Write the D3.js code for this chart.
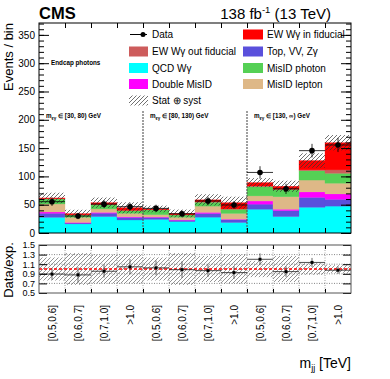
<!DOCTYPE html>
<html><head><meta charset="utf-8">
<script src="https://cdn.jsdelivr.net/npm/d3@7"></script>
<style>
body{margin:0;background:#fff;}
svg{font-family:"Liberation Sans",Arial,Helvetica,sans-serif;}
</style></head>
<body><svg id="c" width="390" height="379"></svg>
<script>
const binLabels = ["[0.5,0.6]","[0.6,0.7]","[0.7,1.0]",">1.0","[0.5,0.6]","[0.6,0.7]","[0.7,1.0]",">1.0","[0.5,0.6]","[0.6,0.7]","[0.7,1.0]",">1.0"];
const regionLabels = ["[30, 80) GeV","[80, 130) GeV","[130, \u221E) GeV"];
const qcdWg    = [27.7,16,29,23,24,20,28,18.5,42,29,45.5,47.5];
const topVVZg  = [7.1,1.5,6,4.5,3.5,2.5,6.5,5,9,10.5,17.5,12];
const doubleMis= [2.3,1.2,1.5,1.2,0.8,0.8,2,1,5.5,2.5,9.5,9.5];
const misLep   = [14.2,9,6,6,4,4.5,11,10,9,22,21,19];
const misPho   = [8.8,4,7.5,4.8,8.5,4,7,7.5,16.5,13,16.5,17.5];
const ewOut    = [0.5,0.3,0.5,0.5,0.4,0.3,0.5,0.5,1,0.5,1.5,6];
const ewIn     = [1.3,2.2,3,4.5,1.3,2.4,3.5,11,6,5,16.5,48];
const dataVals = [55.3,30,51,46.5,43.5,34,56.5,49.5,107,78,145.5,155.5];
const dataErr  = [7.5,5.5,7,7,6.5,6,7.5,7,11,9,12,12.5];
const uncMain  = [0.15,0.2,0.17,0.22,0.14,0.2,0.17,0.2,0.09,0.12,0.1,0.085];
const uncRatio = [0.24,0.33,0.3,0.3,0.24,0.33,0.27,0.3,0.17,0.27,0.12,0.08];
const yTicks = [0,50,100,150,200,250,300,350];
const rTicks = [0.5,0.7,0.9,1.1,1.3,1.5];

const series = [
  {name:"QCD W\u03B3", vals:qcdWg, color:"#00ffff"},
  {name:"Top, VV, Z\u03B3", vals:topVVZg, color:"#5a50dc"},
  {name:"Double MisID", vals:doubleMis, color:"#ff00ff"},
  {name:"MisID lepton", vals:misLep, color:"#deb887"},
  {name:"MisID photon", vals:misPho, color:"#55d055"},
  {name:"EW W\u03B3 out fiducial", vals:ewOut, color:"#cd5c5c"},
  {name:"EW W\u03B3 in fiducial", vals:ewIn, color:"#ff0000"}
];
const nb = binLabels.length;
const table = d3.range(nb).map(i=>{const o={i}; series.forEach(s=>o[s.name]=s.vals[i]); return o;});
const stacked = d3.stack().keys(series.map(s=>s.name))(table);
const totals = d3.range(nb).map(i=>d3.sum(series,s=>s.vals[i]));

const svg = d3.select("#c");
const L=39,R=351,T=23,B=233,RT=245,RB=293;
const x = d3.scaleBand().domain(d3.range(nb)).range([L,R]).padding(0);
const xe = d3.scaleLinear().domain([0,nb]).range([L,R]);
const y = d3.scaleLinear().domain([0,371]).range([B,T]);
const yr = d3.scaleLinear().domain([0.5,1.5]).range([RB,RT]);

const defs = svg.append("defs");
function hatch(id,col){
  defs.append("pattern").attr("id",id).attr("patternUnits","userSpaceOnUse").attr("width",4).attr("height",4)
   .append("path").attr("d","M-1,1 l2,-2 M0,4 l4,-4 M3,5 l2,-2").attr("stroke",col).attr("stroke-width",0.7);
}
hatch("hm","#333"); hatch("hr","#666");
defs.append("clipPath").attr("id","cm").append("rect").attr("x",L).attr("y",T).attr("width",R-L).attr("height",B-T);

// stack
const gs = svg.append("g").attr("clip-path","url(#cm)");
stacked.forEach((layer,k)=>{
  gs.selectAll(null).data(layer).enter().append("rect")
   .attr("x",(d,i)=>x(i)).attr("width",x.bandwidth())
   .attr("y",d=>y(d[1])).attr("height",d=>Math.max(0,y(d[0])-y(d[1])))
   .attr("fill",series[k].color).attr("stroke",series[k].color).attr("stroke-width",0.3);
});
gs.selectAll(null).data(d3.range(nb)).enter().append("rect")
  .attr("x",i=>x(i)).attr("width",x.bandwidth())
  .attr("y",i=>y(totals[i]*(1+uncMain[i]))).attr("height",i=>y(totals[i]*(1-uncMain[i]))-y(totals[i]*(1+uncMain[i])))
  .attr("fill","url(#hm)");

[4,8].forEach(e=>{
  svg.append("line").attr("x1",xe(e)).attr("x2",xe(e)).attr("y1",y(215)).attr("y2",B)
   .attr("stroke","#555").attr("stroke-width",1.5).attr("stroke-dasharray","1.5,1.5");
});
regionLabels.forEach((t,j)=>{
  const tx = svg.append("text").attr("x",xe(j*4)+7).attr("y",y(203)).attr("font-size",6.3).attr("font-weight","bold");
  tx.append("tspan").text("m");
  tx.append("tspan").attr("font-size",4.5).attr("dy",1.8).text("\u2113\u03B3");
  tx.append("tspan").attr("dy",-1.8).text(" \u2208 "+t);
});
svg.append("text").attr("x",51).attr("y",y(300)+2.2).attr("font-size",6.3).attr("font-weight","bold").attr("fill","#000").text("Endcap photons");

const gd = svg.append("g");
d3.range(nb).forEach(i=>{
  const cx = x(i)+x.bandwidth()/2;
  gd.append("line").attr("x1",x(i)).attr("x2",x(i)+x.bandwidth()).attr("y1",y(dataVals[i])).attr("y2",y(dataVals[i])).attr("stroke","#000").attr("stroke-width",0.8);
  gd.append("line").attr("x1",cx).attr("x2",cx).attr("y1",y(dataVals[i]-dataErr[i])).attr("y2",y(dataVals[i]+dataErr[i])).attr("stroke","#000").attr("stroke-width",0.8);
  gd.append("circle").attr("cx",cx).attr("cy",y(dataVals[i])).attr("r",2.8).attr("fill","#000");
});

function styleAxis(g){ g.select(".domain").remove(); g.selectAll("line").attr("stroke","#000"); g.selectAll("text").attr("font-size",10).attr("fill","#000").attr("font-family","Liberation Sans, Arial, sans-serif"); }
svg.append("g").attr("transform",`translate(${L},0)`).call(d3.axisLeft(y).tickValues(yTicks).tickSize(-10).tickPadding(4)).call(styleAxis);
svg.append("g").attr("transform",`translate(${L},0)`).call(d3.axisLeft(y).tickValues(d3.range(0,371,10)).tickSize(-5).tickFormat("")).call(styleAxis);
svg.append("g").attr("transform",`translate(${R},0)`).call(d3.axisRight(y).tickValues(yTicks).tickSize(-10).tickFormat("")).call(styleAxis);
svg.append("g").attr("transform",`translate(${R},0)`).call(d3.axisRight(y).tickValues(d3.range(0,371,10)).tickSize(-5).tickFormat("")).call(styleAxis);
svg.append("g").attr("transform",`translate(0,${B})`).call(d3.axisBottom(xe).tickValues(d3.range(1,nb)).tickSize(-5).tickFormat("")).call(styleAxis);
svg.append("g").attr("transform",`translate(0,${T})`).call(d3.axisTop(xe).tickValues(d3.range(1,nb)).tickSize(-5).tickFormat("")).call(styleAxis);
svg.append("rect").attr("x",L).attr("y",T).attr("width",R-L).attr("height",B-T).attr("fill","none").attr("stroke","#000").attr("stroke-width",1);

const gr = svg.append("g");
[0.7,0.9,1.1,1.3].forEach(v=>{
  gr.append("line").attr("x1",L).attr("x2",R).attr("y1",yr(v)).attr("y2",yr(v)).attr("stroke","#666").attr("stroke-width",0.8).attr("stroke-dasharray","1,1.5");
});
d3.range(1,nb).forEach(e=>{
  gr.append("line").attr("x1",xe(e)).attr("x2",xe(e)).attr("y1",RT).attr("y2",RB).attr("stroke","#888").attr("stroke-width",0.8).attr("stroke-dasharray","1,1.5");
});
gr.selectAll(null).data(d3.range(nb)).enter().append("rect")
  .attr("x",i=>x(i)).attr("width",x.bandwidth())
  .attr("y",i=>yr(1+uncRatio[i])).attr("height",i=>yr(1-uncRatio[i])-yr(1+uncRatio[i]))
  .attr("fill","url(#hr)");
gr.append("line").attr("x1",L).attr("x2",R).attr("y1",yr(1)).attr("y2",yr(1)).attr("stroke","#ff0000").attr("stroke-width",1.5).attr("stroke-dasharray","3,2");
d3.range(nb).forEach(i=>{
  const r = dataVals[i]/totals[i], re = dataErr[i]/totals[i];
  const cx = x(i)+x.bandwidth()/2;
  gr.append("line").attr("x1",x(i)).attr("x2",x(i)+x.bandwidth()).attr("y1",yr(r)).attr("y2",yr(r)).attr("stroke","#222").attr("stroke-width",0.8);
  gr.append("line").attr("x1",cx).attr("x2",cx).attr("y1",yr(r-re)).attr("y2",yr(r+re)).attr("stroke","#444").attr("stroke-width",0.8);
  gr.append("rect").attr("x",cx-1.5).attr("y",yr(r)-1.5).attr("width",3).attr("height",3).attr("fill","#000");
});
svg.append("g").attr("transform",`translate(${L},0)`).call(d3.axisLeft(yr).tickValues(rTicks).tickSize(-8).tickPadding(4).tickFormat(d3.format(".1f"))).call(styleAxis).selectAll("text").attr("font-size",9);
svg.append("g").attr("transform",`translate(${R},0)`).call(d3.axisRight(yr).tickValues(rTicks).tickSize(-8).tickFormat("")).call(styleAxis);
svg.append("g").attr("transform",`translate(0,${RB})`).call(d3.axisBottom(xe).tickValues(d3.range(1,nb)).tickSize(-4).tickFormat("")).call(styleAxis);
svg.append("g").attr("transform",`translate(0,${RT})`).call(d3.axisTop(xe).tickValues(d3.range(1,nb)).tickSize(-4).tickFormat("")).call(styleAxis);
svg.append("rect").attr("x",L).attr("y",RT).attr("width",R-L).attr("height",RB-RT).attr("fill","none").attr("stroke","#555").attr("stroke-width",1);

const gx = svg.append("g").attr("transform",`translate(0,${RB})`).call(d3.axisBottom(x).tickSize(0).tickFormat(i=>binLabels[i]));
gx.select(".domain").remove();
gx.selectAll("text").attr("transform","rotate(-90)").attr("x",-12).attr("y",0).attr("dy","0.35em")
  .attr("text-anchor","end").attr("font-size",10).attr("fill","#000").attr("font-family","Liberation Sans, Arial, sans-serif");

svg.append("text").attr("x",39).attr("y",19).attr("font-size",16.5).attr("font-weight","bold").text("CMS");
const lum = svg.append("text").attr("x",331).attr("y",19).attr("text-anchor","end").attr("font-size",15);
lum.append("tspan").text("138 fb");
lum.append("tspan").attr("font-size",9.5).attr("dy",-6).text("-1");
lum.append("tspan").attr("dy",6).text(" (13 TeV)");
svg.append("text").attr("transform","translate(13,23) rotate(-90)").attr("text-anchor","end").attr("font-size",13).text("Events / bin");
svg.append("text").attr("transform","translate(13,270) rotate(-90)").attr("text-anchor","middle").attr("font-size",13).text("Data/exp.");
const mj = svg.append("text").attr("x",351).attr("y",368).attr("text-anchor","end").attr("font-size",14);
mj.append("tspan").text("m");
mj.append("tspan").attr("font-size",9).attr("dy",3).text("jj");
mj.append("tspan").attr("dy",-3).text(" [TeV]");

const leg = svg.append("g").attr("font-size",10);
const rows = [34.5,51.5,68,84,100.5];
const byName = n=>series.find(s=>s.name===n);
const leftItems = ["EW W\u03B3 out fiducial","QCD W\u03B3","Double MisID"];
const rightItems = ["EW W\u03B3 in fiducial","Top, VV, Z\u03B3","MisID photon","MisID lepton"];
leg.append("line").attr("x1",130).attr("x2",147).attr("y1",rows[0]).attr("y2",rows[0]).attr("stroke","#000");
leg.append("circle").attr("cx",143).attr("cy",rows[0]).attr("r",2.5).attr("fill","#000");
leg.append("text").attr("x",152).attr("y",rows[0]).attr("dy","0.35em").text("Data");
leftItems.forEach((n,j)=>{
  leg.append("rect").attr("x",129).attr("y",rows[j+1]-5).attr("width",19).attr("height",10).attr("fill",byName(n).color);
  leg.append("text").attr("x",152).attr("y",rows[j+1]).attr("dy","0.35em").text(n);
});
leg.append("rect").attr("x",129).attr("y",rows[4]-5).attr("width",19).attr("height",10).attr("fill","url(#hm)");
leg.append("text").attr("x",152).attr("y",rows[4]).attr("dy","0.35em").text("Stat \u2295 syst");
rightItems.forEach((n,j)=>{
  leg.append("rect").attr("x",243).attr("y",rows[j]-5).attr("width",20).attr("height",10).attr("fill",byName(n).color);
  leg.append("text").attr("x",267).attr("y",rows[j]).attr("dy","0.35em").text(n);
});
</script></body></html>
